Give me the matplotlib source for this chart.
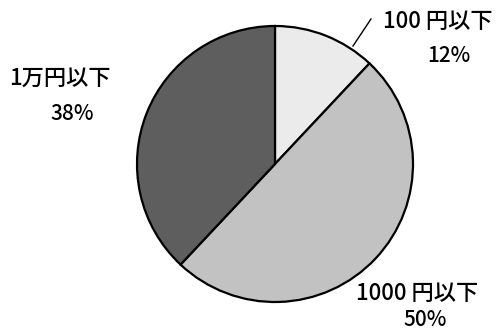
import matplotlib
matplotlib.use("Agg")
import matplotlib.pyplot as plt

plt.rcParams['font.family'] = ['Noto Sans CJK JP', 'DejaVu Sans']

categories = ["100 円以下", "1000 円以下", "1万円以下"]
shares = [12, 50, 38]
colors = ["#ebebeb", "#c2c2c2", "#5e5e5e"]

W, H = 498, 334
fig = plt.figure(figsize=(W / 100, H / 100), dpi=100)
ax = fig.add_axes([0, 0, 1, 1])

cx, cy, r = 275, H - 164, 138
ax.pie(shares, colors=colors, startangle=90, counterclock=False,
       center=(cx, cy), radius=r,
       wedgeprops=dict(edgecolor='black', linewidth=1.6))
ax.set_xlim(0, W)
ax.set_ylim(0, H)
ax.set_aspect('equal')
ax.axis('off')

# leader line for the smallest slice
ax.plot([353, 371], [H - 46, H - 19], color='black', lw=1)

name_font = dict(family=['Noto Sans CJK JP', 'DejaVu Sans'], fontsize=16,
                 fontweight='medium')
pct_font = dict(family=['Noto Sans CJK JP', 'DejaVu Sans'], fontsize=15,
                fontweight='medium')

labels = [
    (categories[0], shares[0], (438, 22), (449, 56)),
    (categories[2], shares[2], (60, 78), (72, 114)),
    (categories[1], shares[1], (417, 293), (425, 320)),
]
for name, share, (nx, ny), (px, py) in labels:
    ax.text(nx, H - ny, name, ha='center', va='center', **name_font)
    ax.text(px, H - py, f"{share}%", ha='center', va='center', **pct_font)

fig.savefig("out.png", dpi=100)
